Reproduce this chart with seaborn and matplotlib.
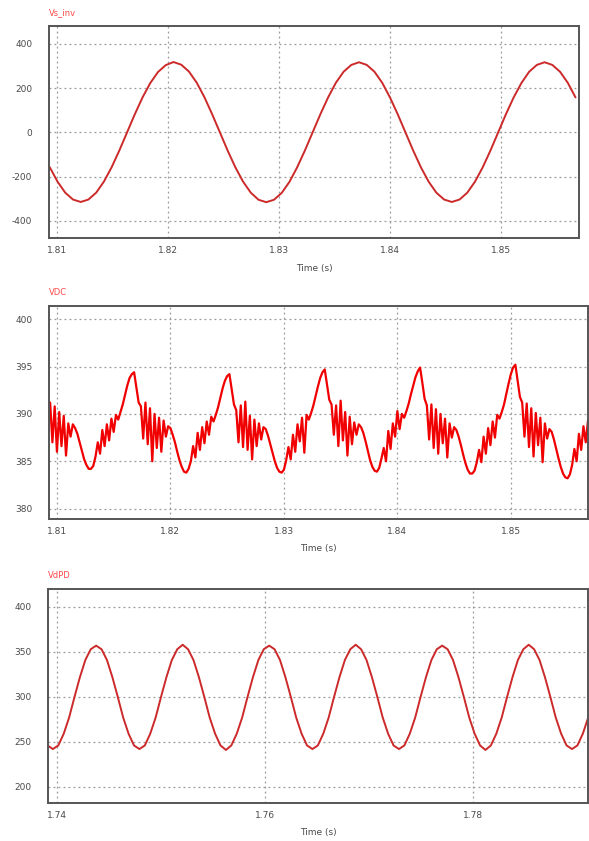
import numpy as np
import pandas as pd
import matplotlib
matplotlib.use("Agg")
import matplotlib.pyplot as plt
import seaborn as sns

# ---------------- data ----------------
# Panel 1: Vs_inv, sampled every 1/24 of a 59.9 Hz period
vs_t_start = 1.80937
vs_dt = 0.0167 / 24
vs_inv_values = [
    -158, -223, -273, -304, -315, -304, -273, -223, -158, -82, 0, 82,
    158, 223, 273, 304, 318, 306, 275, 225, 159, 82, 0, -82,
    -158, -223, -273, -305, -316, -305, -274, -224, -158, -82, 0, 82,
    158, 224, 274, 305, 317, 305, 274, 224, 158, 82, 0, -82,
    -158, -223, -273, -304, -315, -304, -273, -223, -158, -82, 0, 82,
    158, 223, 274, 305, 317, 305, 274, 224, 158,
]

# Panel 2: VDC, sampled every 0.2 ms
vdc_t_start = 1.8094
vdc_dt = 0.0002
vdc_part0 = [391.2, 387.0, 390.8, 386.0, 390.2, 386.6, 389.8, 385.6, 389.0, 387.6,
             388.9, 388.5, 387.9, 387.0, 386.1, 385.2, 384.6, 384.2, 384.2, 384.5,
             385.5, 387.0, 385.8, 388.3, 386.6, 388.9, 387.2, 389.5, 388.1, 389.9,
             389.4, 390.2, 391.0, 392.0, 393.0, 393.8, 394.2]
vdc_cycle1 = [394.4, 392.8, 391.2, 390.8, 387.4, 391.2, 386.8, 390.6, 385.0, 390.0,
              386.4, 389.6, 386.0, 389.3, 387.6, 388.7, 388.5, 387.8, 387.0, 386.0,
              385.1, 384.4, 383.9, 383.8, 384.2, 385.0, 386.6, 385.4, 388.0, 386.2,
              388.6, 386.9, 389.2, 387.8, 389.7, 389.2, 389.9, 390.7, 391.7, 392.7,
              393.5, 394.0]
vdc_cycle2 = [394.2, 392.6, 391.0, 390.4, 387.0, 390.9, 386.5, 391.3, 386.2, 389.8,
              385.2, 389.4, 386.6, 389.0, 387.3, 388.6, 388.4, 387.7, 386.8, 385.9,
              385.0, 384.3, 383.9, 383.8, 384.1, 385.1, 386.5, 385.2, 387.8, 386.0,
              388.9, 387.1, 389.6, 385.9, 389.9, 389.4, 390.1, 390.9, 391.9, 392.9,
              393.8, 394.4]
vdc_cycle3 = [394.7, 393.1, 391.5, 391.0, 387.8, 390.9, 386.6, 391.4, 387.2, 390.2,
              385.6, 389.7, 386.8, 389.1, 387.8, 388.9, 388.6, 388.0, 387.1, 386.1,
              385.1, 384.4, 384.0, 383.9, 384.3, 385.3, 386.4, 385.0, 388.2, 386.3,
              389.0, 387.6, 390.3, 388.4, 390.0, 389.6, 390.3, 391.1, 392.1, 393.0,
              393.9, 394.5]
vdc_cycle4 = [394.9, 393.3, 391.6, 390.9, 387.3, 391.0, 386.4, 390.5, 385.8, 390.0,
              386.9, 389.5, 385.4, 389.0, 387.5, 388.6, 388.3, 387.6, 386.7, 385.7,
              384.8, 384.1, 383.7, 383.7, 384.0, 384.9, 386.2, 384.9, 387.6, 385.8,
              388.5, 386.7, 389.2, 387.5, 389.9, 389.5, 390.2, 391.0, 392.1, 393.2,
              394.2, 394.9]
vdc_part5 = [395.2, 393.5, 391.8, 391.2, 387.6, 391.1, 386.5, 390.6, 385.5, 390.1,
             386.7, 389.6, 384.9, 389.0, 387.4, 388.4, 388.1, 387.3, 386.3, 385.3,
             384.4, 383.7, 383.3, 383.2, 383.6, 384.6, 386.3, 385.0, 387.9, 386.2,
             388.7, 387.0, 389.3]

# Panel 3: VdPD, sampled every 1/16 of a 120 Hz period
vdpd_t_start = 1.73908
vdpd_dt = 0.00052
vdpd_values = [
    246, 242, 246, 259, 277, 300, 322, 341, 353, 357, 353, 341, 322, 300, 277, 259,
    246, 242, 246, 259, 277, 300, 322, 341, 353, 358, 353, 341, 322, 300, 277, 259,
    246, 241, 246, 259, 277, 300, 322, 341, 353, 357, 353, 341, 322, 300, 277, 259,
    246, 242, 246, 259, 277, 300, 322, 341, 353, 358, 353, 341, 322, 300, 277, 259,
    246, 242, 246, 259, 277, 300, 322, 341, 353, 357, 353, 341, 322, 300, 277, 259,
    246, 241, 246, 259, 277, 300, 322, 341, 353, 358, 353, 341, 322, 300, 277, 259,
    246, 242, 246, 259, 277,
]

titles = ["Vs_inv", "VDC", "VdPD"]
xticks = [[1.81, 1.82, 1.83, 1.84, 1.85],
          [1.81, 1.82, 1.83, 1.84, 1.85],
          [1.74, 1.76, 1.78]]
yticks = [[-400, -200, 0, 200, 400],
          [380, 385, 390, 395, 400],
          [200, 250, 300, 350, 400]]
xlims = [(1.8093, 1.8570), (1.8093, 1.8568), (1.73913, 1.79106)]
ylims = [(-478, 481), (378.9, 401.4), (182, 420)]

# ---------------- build frames ----------------
vdc_values = vdc_part0 + vdc_cycle1 + vdc_cycle2 + vdc_cycle3 + vdc_cycle4 + vdc_part5
df1 = pd.DataFrame({"t": vs_t_start + vs_dt * np.arange(len(vs_inv_values)),
                    "v": vs_inv_values})
df2 = pd.DataFrame({"t": vdc_t_start + vdc_dt * np.arange(len(vdc_values)),
                    "v": vdc_values})
df3 = pd.DataFrame({"t": vdpd_t_start + vdpd_dt * np.arange(len(vdpd_values)),
                    "v": vdpd_values})
frames = [df1, df2, df3]

sns.set_style("white")
plt.rcParams["font.family"] = ["DejaVu Sans"]

W, H = 589, 841
fig = plt.figure(figsize=(W / 100, H / 100), dpi=100)

# axes boxes in pixels: left, top, right, bottom
boxes = [(49, 26, 579, 238), (49, 306, 588, 519), (48, 589, 588, 803)]
colors = ["#cc2a2a", "#f00000", "#cc2a2a"]
widths = [1.4, 1.6, 1.4]

for i, (l, t, r, b) in enumerate(boxes):
    ax = fig.add_axes([l / W, 1 - b / H, (r - l) / W, (b - t) / H])
    sns.lineplot(data=frames[i], x="t", y="v", ax=ax, color=colors[i],
                 linewidth=widths[i], estimator=None, sort=False)
    ax.set_xlim(*xlims[i])
    ax.set_ylim(*ylims[i])
    ax.set_xticks(xticks[i])
    ax.set_xticklabels([f"{v:.2f}" for v in xticks[i]])
    ax.set_yticks(yticks[i])
    ax.set_yticklabels([str(v) for v in yticks[i]])
    ax.grid(True, color="#9a9a9a", linestyle=(0, (1.5, 2.5)), linewidth=0.9)
    ax.tick_params(axis="both", length=0, labelsize=6.5, labelcolor="#4a4a4a")
    ax.tick_params(axis="y", pad=12)
    ax.tick_params(axis="x", pad=6)
    for sp in ax.spines.values():
        sp.set_color("#555555")
        sp.set_linewidth(1.4)
    ax.set_xlabel("")
    ax.set_ylabel("")
    # title top-left
    fig.text(l / W, 1 - (t - 13) / H, titles[i], color="#ff4a4a", fontsize=6,
             ha="left", va="center")
    # x label
    fig.text((l + r) / 2 / W, 1 - (b + 30) / H, "Time (s)", color="#4a4a4a",
             fontsize=6.5, ha="center", va="center")

fig.savefig("out.png", dpi=100, facecolor="white")
